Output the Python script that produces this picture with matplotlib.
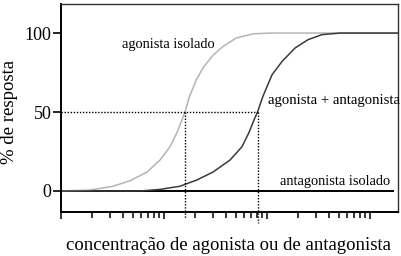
import numpy as np
import matplotlib
matplotlib.use("Agg")
import matplotlib.pyplot as plt

# curve points: log10(concentration), % response
ag_logc = [0.000, 0.282, 0.505, 0.670, 0.835, 0.961, 1.058, 1.126, 1.175, 1.204,
           1.243, 1.311, 1.379, 1.476, 1.573, 1.699, 1.864, 2.029, 3.272]
ag_resp = [0, 0.6, 3, 6.5, 12, 19.6, 28, 37, 45, 50,
           59, 70, 78, 86, 91.5, 96.8, 99.5, 100, 100]

mix_logc = [0.000, 0.767, 0.961, 1.155, 1.320, 1.476, 1.641, 1.757, 1.825, 1.874,
            1.908, 1.961, 2.049, 2.146, 2.272, 2.398, 2.534, 2.709, 3.272]
mix_resp = [0, 0, 1, 3, 7, 12, 19.6, 28, 37, 45,
            50, 60, 73.6, 82, 90.5, 95.8, 99, 100, 100]

antag_logc = [0.0, 3.232]
antag_resp = [0, 0]

ec50_ag = 1.204
ec50_mix = 1.908

labels = {"ag": "agonista isolado", "mix": "agonista + antagonista", "antag": "antagonista isolado"}

plt.rcParams['font.family'] = ['Liberation Serif', 'DejaVu Serif']

fig = plt.figure(figsize=(4.01, 2.56), dpi=100)
ax = fig.add_axes([61/401, 44/256, 337/401, 208/256])

x_ag = 10 ** np.array(ag_logc)
x_mix = 10 ** np.array(mix_logc)
x_an = 10 ** np.array(antag_logc)

ax.plot(x_an, antag_resp, color="black", lw=1.4, solid_capstyle="butt")
ax.plot(x_ag, ag_resp, color="#b4b4b4", lw=1.1, solid_joinstyle="round")
ax.plot(x_mix, mix_resp, color="#3a3a3a", lw=1.1, solid_joinstyle="round")

# dotted guides at EC50
ax.plot([1, 10 ** ec50_mix], [50, 50], color="black", lw=1.0, ls=(0, (1, 1.2)))
ax.plot([10 ** ec50_ag] * 2, [50, -17], color="black", lw=1.0, ls=(0, (1, 1.2)), clip_on=False)
ax.plot([10 ** ec50_mix] * 2, [50, -20], color="black", lw=1.0, ls=(0, (1, 1.2)), clip_on=False)

ax.set_xscale("log")
ax.set_xlim(1, 10 ** 3.272)
ax.set_ylim(-13.3, 118.4)
ax.set_yticks([0, 50, 100])
ax.set_yticklabels(["0", "50", "100"])
ax.xaxis.set_major_formatter(matplotlib.ticker.NullFormatter())
ax.xaxis.set_minor_formatter(matplotlib.ticker.NullFormatter())
ax.tick_params(axis="y", direction="out", length=6, width=1.2, pad=1, labelsize=13)
ax.tick_params(axis="x", which="major", direction="out", length=5, width=1.1)
ax.tick_params(axis="x", which="minor", direction="out", length=4, width=1.1)

for s in ["left", "bottom"]:
    ax.spines[s].set_linewidth(1.4)
for s in ["top", "right"]:
    ax.spines[s].set_linewidth(1.0)
    ax.spines[s].set_color("#333333")

ax.text(10 ** 1.039, 93, labels["ag"], ha="center", va="center", fontsize=10.4)
ax.text(10 ** 2.646, 57.6, labels["mix"], ha="center", va="center", fontsize=10.6)
ax.text(10 ** 2.66, 6.3, labels["antag"], ha="center", va="center", fontsize=10.4)

fig.text(10/401, 1 - 111.5/256, "% de resposta", rotation=90,
         ha="center", va="center", fontsize=13.5)
fig.text(229/401, 1 - 245/256, "concentração de agonista ou de antagonista",
         ha="center", va="center", fontsize=13.5)

fig.savefig("out.png", dpi=100)
